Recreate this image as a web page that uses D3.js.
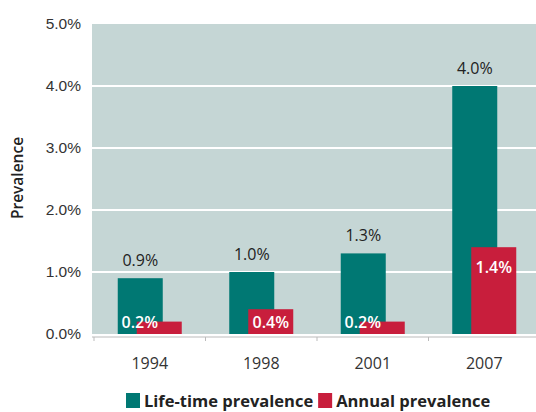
<!DOCTYPE html>
<html>
<head>
<meta charset="utf-8">
<script src="https://cdn.jsdelivr.net/npm/d3@7"></script>
<style>
  html, body { margin: 0; padding: 0; background: #fff; }
  svg { display: block; font-family: "Open Sans", "Noto Sans", sans-serif; }
</style>
</head>
<body>
<svg id="chart" width="536" height="412"></svg>
<script>
const years = ['1994', '1998', '2001', '2007'];
const lifetime = [0.9, 1.0, 1.3, 4.0];   // % life-time prevalence
const annual = [0.2, 0.4, 0.2, 1.4];     // % annual prevalence
const yTicks = [0, 1, 2, 3, 4, 5];
const seriesNames = ['Life-time prevalence', 'Annual prevalence'];

const TEAL = '#007873';
const RED = '#c81e3c';

const svg = d3.select('#chart');

const plotLeft = 92, plotRight = 536, plotTop = 24, plotBottom = 334;

const xScale = d3.scaleBand().domain(years).range([94, 540]).paddingInner(0);
const yScale = d3.scaleLinear().domain([0, 5]).range([plotBottom, plotTop]);

const barW = 45;

// plot background
svg.append('rect')
  .attr('x', plotLeft).attr('y', plotTop)
  .attr('width', plotRight - plotLeft).attr('height', plotBottom - plotTop)
  .attr('fill', '#c5d6d5');

// gridlines
svg.append('g').selectAll('line')
  .data(yTicks.filter(d => d > 0 && d < 5))
  .join('line')
  .attr('x1', plotLeft).attr('x2', plotRight)
  .attr('y1', d => yScale(d)).attr('y2', d => yScale(d))
  .attr('stroke', '#fff').attr('stroke-width', 2);

// y axis labels
const yAxis = d3.axisLeft(yScale).tickValues(yTicks).tickFormat(d => d.toFixed(1) + '%').tickSize(0).tickPadding(0);
const gY = svg.append('g').attr('transform', 'translate(81,0)').call(yAxis);
gY.select('.domain').remove();
gY.selectAll('text').attr('font-size', 15.5).attr('fill', '#333').attr('font-family', 'inherit');

// y title
svg.append('text')
  .attr('transform', 'translate(23,' + 178 + ') rotate(-90)')
  .attr('text-anchor', 'middle')
  .attr('font-size', 15.5).attr('font-weight', 600).attr('fill', '#222')
  .text('Prevalence');

// bottom axis
const gX = svg.append('g').attr('transform', 'translate(0,337)');
gX.append('line').attr('x1', plotLeft).attr('x2', plotRight).attr('stroke', '#bbb').attr('stroke-width', 1);
gX.selectAll('.bnd')
  .data(years)
  .join('line')
  .attr('class', 'bnd')
  .attr('x1', d => xScale(d)).attr('x2', d => xScale(d))
  .attr('y1', 0).attr('y2', 4)
  .attr('stroke', '#bbb');
gX.selectAll('.lbl')
  .data(years)
  .join('text')
  .attr('class', 'lbl')
  .attr('x', d => xScale(d) + xScale.bandwidth() / 2)
  .attr('y', 32)
  .attr('text-anchor', 'middle')
  .attr('font-size', 16).attr('fill', '#333')
  .text(d => d);

const center = d => xScale(d) + xScale.bandwidth() / 2;

// life-time bars
svg.append('g').selectAll('rect')
  .data(years)
  .join('rect')
  .attr('x', d => center(d) - 32)
  .attr('y', (d, i) => yScale(lifetime[i]))
  .attr('width', barW)
  .attr('height', (d, i) => yScale(0) - yScale(lifetime[i]))
  .attr('fill', TEAL);

// annual bars
svg.append('g').selectAll('rect')
  .data(years)
  .join('rect')
  .attr('x', d => center(d) - 13)
  .attr('y', (d, i) => yScale(annual[i]))
  .attr('width', barW)
  .attr('height', (d, i) => yScale(0) - yScale(annual[i]))
  .attr('fill', RED);

// life-time value labels
svg.append('g').selectAll('text')
  .data(years)
  .join('text')
  .attr('x', d => center(d) - 32 + barW / 2)
  .attr('y', (d, i) => yScale(lifetime[i]) - 12)
  .attr('text-anchor', 'middle')
  .attr('font-size', 16).attr('fill', '#222')
  .text((d, i) => lifetime[i].toFixed(1) + '%');

// annual value labels
svg.append('g').selectAll('text')
  .data(years)
  .join('text')
  .attr('x', (d, i) => {
    const h = yScale(0) - yScale(annual[i]);
    return h < 20 ? center(d) - 10 : center(d) - 13 + barW / 2;
  })
  .attr('y', (d, i) => Math.min(yScale(annual[i]) + 26, yScale(0) - 6))
  .attr('text-anchor', 'middle')
  .attr('font-size', 16).attr('font-weight', 600).attr('fill', '#fff')
  .text((d, i) => annual[i].toFixed(1) + '%');

// legend
const legend = svg.append('g').attr('transform', 'translate(126,393)');
const legendColors = [TEAL, RED];
let lx = 0;
seriesNames.forEach((name, i) => {
  legend.append('rect').attr('x', lx).attr('y', 0).attr('width', 14).attr('height', 15).attr('fill', legendColors[i]);
  const t = legend.append('text')
    .attr('x', lx + 18).attr('y', 14)
    .attr('font-size', 16.5).attr('font-weight', 700).attr('fill', '#222')
    .text(name);
  lx += 18 + t.node().getComputedTextLength() + 5;
});
</script>
</body>
</html>
